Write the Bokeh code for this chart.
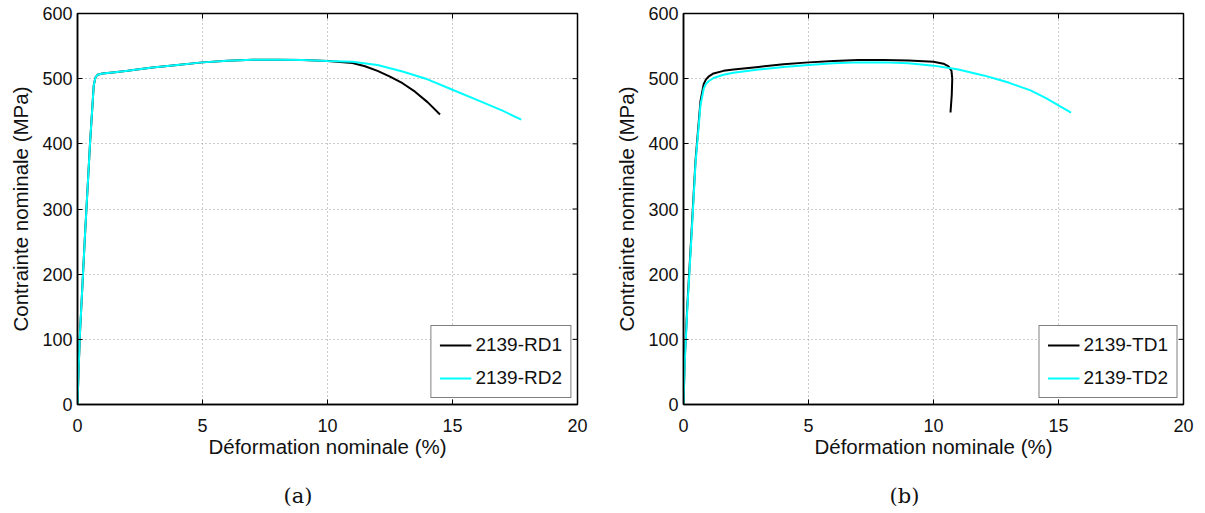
from bokeh.plotting import figure
from bokeh.layouts import row
from bokeh.models import FixedTicker, Legend, LegendItem, Title, Range1d
from bokeh.embed import file_html
from bokeh.resources import INLINE

# ---- data (strain %, stress MPa) ----
rd1_x = [0, 0.05, 0.1, 0.3, 0.5, 0.65, 0.72, 0.8, 1.0, 1.5, 2, 3, 4, 5, 6, 7, 8, 9, 10, 11, 11.5, 12, 12.5, 13, 13.5, 14, 14.5]
rd1_y = [0, 60, 110, 260, 400, 490, 502, 506, 508, 510, 512, 517, 521, 525, 527.5, 529, 529, 528.5, 527, 524, 519, 512, 503, 493, 480, 464, 445]
rd2_x = [0, 0.05, 0.1, 0.3, 0.5, 0.65, 0.72, 0.8, 1.0, 1.5, 2, 3, 4, 5, 6, 7, 8, 9, 10, 11, 12, 13, 14, 15, 16, 17, 17.75]
rd2_y = [0, 60, 110, 260, 400, 490, 502, 506, 508, 510, 512, 517, 521, 525, 527.5, 529, 529, 528.5, 527, 526, 521, 511, 499, 483, 467, 451, 437]

td1_x = [0, 0.05, 0.15, 0.3, 0.48, 0.68, 0.81, 0.9, 1.0, 1.2, 1.6, 2, 3, 4, 5, 6, 7, 8, 9, 10, 10.4, 10.6, 10.72, 10.75, 10.73, 10.68]
td1_y = [0, 70, 150, 250, 374, 466, 492, 499, 503, 508, 512, 514, 518, 522, 525, 527, 528.5, 528.5, 528, 526, 523, 519, 512, 500, 475, 448]
td2_x = [0, 0.05, 0.15, 0.3, 0.48, 0.68, 0.81, 0.9, 1.0, 1.2, 1.6, 2, 3, 4, 5, 6, 7, 8, 9, 10, 11, 12, 12.55, 13, 13.88, 14.5, 15, 15.5]
td2_y = [0, 65, 145, 245, 370, 460, 485, 492, 496, 501, 506, 509, 514, 518, 521, 523.5, 525, 525, 523.5, 520, 514, 505, 499, 494, 482, 470, 459, 448]

x_ticks = [0, 5, 10, 15, 20]
y_ticks = [0, 100, 200, 300, 400, 500, 600]
x_label = "Déformation nominale (%)"
y_label = "Contrainte nominale (MPa)"

FONT = "Liberation Sans"
TICK_FS = "18px"
LABEL_FS = "20.5px"
FW, FH = 500, 391
XMIN, XMAX, YMIN, YMAX = 0, 20, 0, 600


def make_panel(xa, ya, na, xb, yb, nb, caption, right_border):
    p = figure(frame_width=FW, frame_height=FH, output_backend="svg", toolbar_location=None,
               x_range=Range1d(XMIN, XMAX), y_range=Range1d(YMIN, YMAX),
               min_border_left=77, min_border_top=13, min_border_right=right_border,
               min_border_bottom=100)
    p.xaxis.ticker = FixedTicker(ticks=x_ticks)
    p.yaxis.ticker = FixedTicker(ticks=y_ticks)
    for ax in [p.xaxis[0], p.yaxis[0]]:
        ax.major_tick_in = 5
        ax.major_tick_out = 0
        ax.minor_tick_in = 0
        ax.minor_tick_out = 0
        ax.axis_line_width = 1.5
        ax.axis_line_color = "black"
        ax.major_tick_line_color = "black"
        ax.major_label_text_font = FONT
        ax.major_label_text_font_size = TICK_FS
        ax.major_label_text_color = "#111111"
        ax.axis_label_text_font = FONT
        ax.axis_label_text_font_size = LABEL_FS
        ax.axis_label_text_font_style = "normal"
        ax.axis_label_text_color = "#111111"
    p.xaxis.axis_label = x_label
    p.yaxis.axis_label = y_label
    p.xaxis.major_label_standoff = 14
    p.xaxis.axis_label_standoff = 0
    p.yaxis.major_label_standoff = 5
    p.yaxis.axis_label_standoff = 7

    p.grid.grid_line_color = "#999999"
    p.grid.grid_line_dash = "1 3"
    p.grid.grid_line_width = 1
    p.outline_line_color = "black"
    p.outline_line_width = 1.5

    # inward tick marks on the right and top edges (box on), derived from tick lists
    dx = (XMAX - XMIN) / FW * 5
    dy = (YMAX - YMIN) / FH * 5
    p.segment(x0=[XMAX] * len(y_ticks), y0=y_ticks, x1=[XMAX - dx] * len(y_ticks), y1=y_ticks,
              line_color="black", line_width=1)
    p.segment(x0=x_ticks, y0=[YMAX] * len(x_ticks), x1=x_ticks, y1=[YMAX - dy] * len(x_ticks),
              line_color="black", line_width=1)

    ra = p.line(xa, ya, line_color="black", line_width=2)
    rb = p.line(xb, yb, line_color="cyan", line_width=2)

    leg = Legend(items=[LegendItem(label=na, renderers=[ra]),
                        LegendItem(label=nb, renderers=[rb])],
                 location="bottom_right")
    leg.border_line_color = "black"
    leg.border_line_width = 1.5
    leg.background_fill_color = "white"
    leg.background_fill_alpha = 1
    leg.label_text_font = FONT
    leg.label_text_font_size = "19px"
    leg.label_text_color = "#111111"
    leg.glyph_width = 32
    leg.glyph_height = 20
    leg.label_height = 20
    leg.label_standoff = 4
    leg.spacing = 11
    leg.padding = 8
    leg.margin = 6
    p.add_layout(leg)

    t = Title(text=caption, align="left", offset=206,
              text_font="DejaVu Serif", text_font_size="21px",
              text_font_style="normal", text_color="#111111", standoff=42)
    p.add_layout(t, "below")
    return p


p1 = make_panel(rd1_x, rd1_y, "2139-RD1", rd2_x, rd2_y, "2139-RD2", "(a)", 29)
p2 = make_panel(td1_x, td1_y, "2139-TD1", td2_x, td2_y, "2139-TD2", "(b)", 12)

layout = row(p1, p2)
open("out.html", "w").write(file_html(layout, INLINE))
